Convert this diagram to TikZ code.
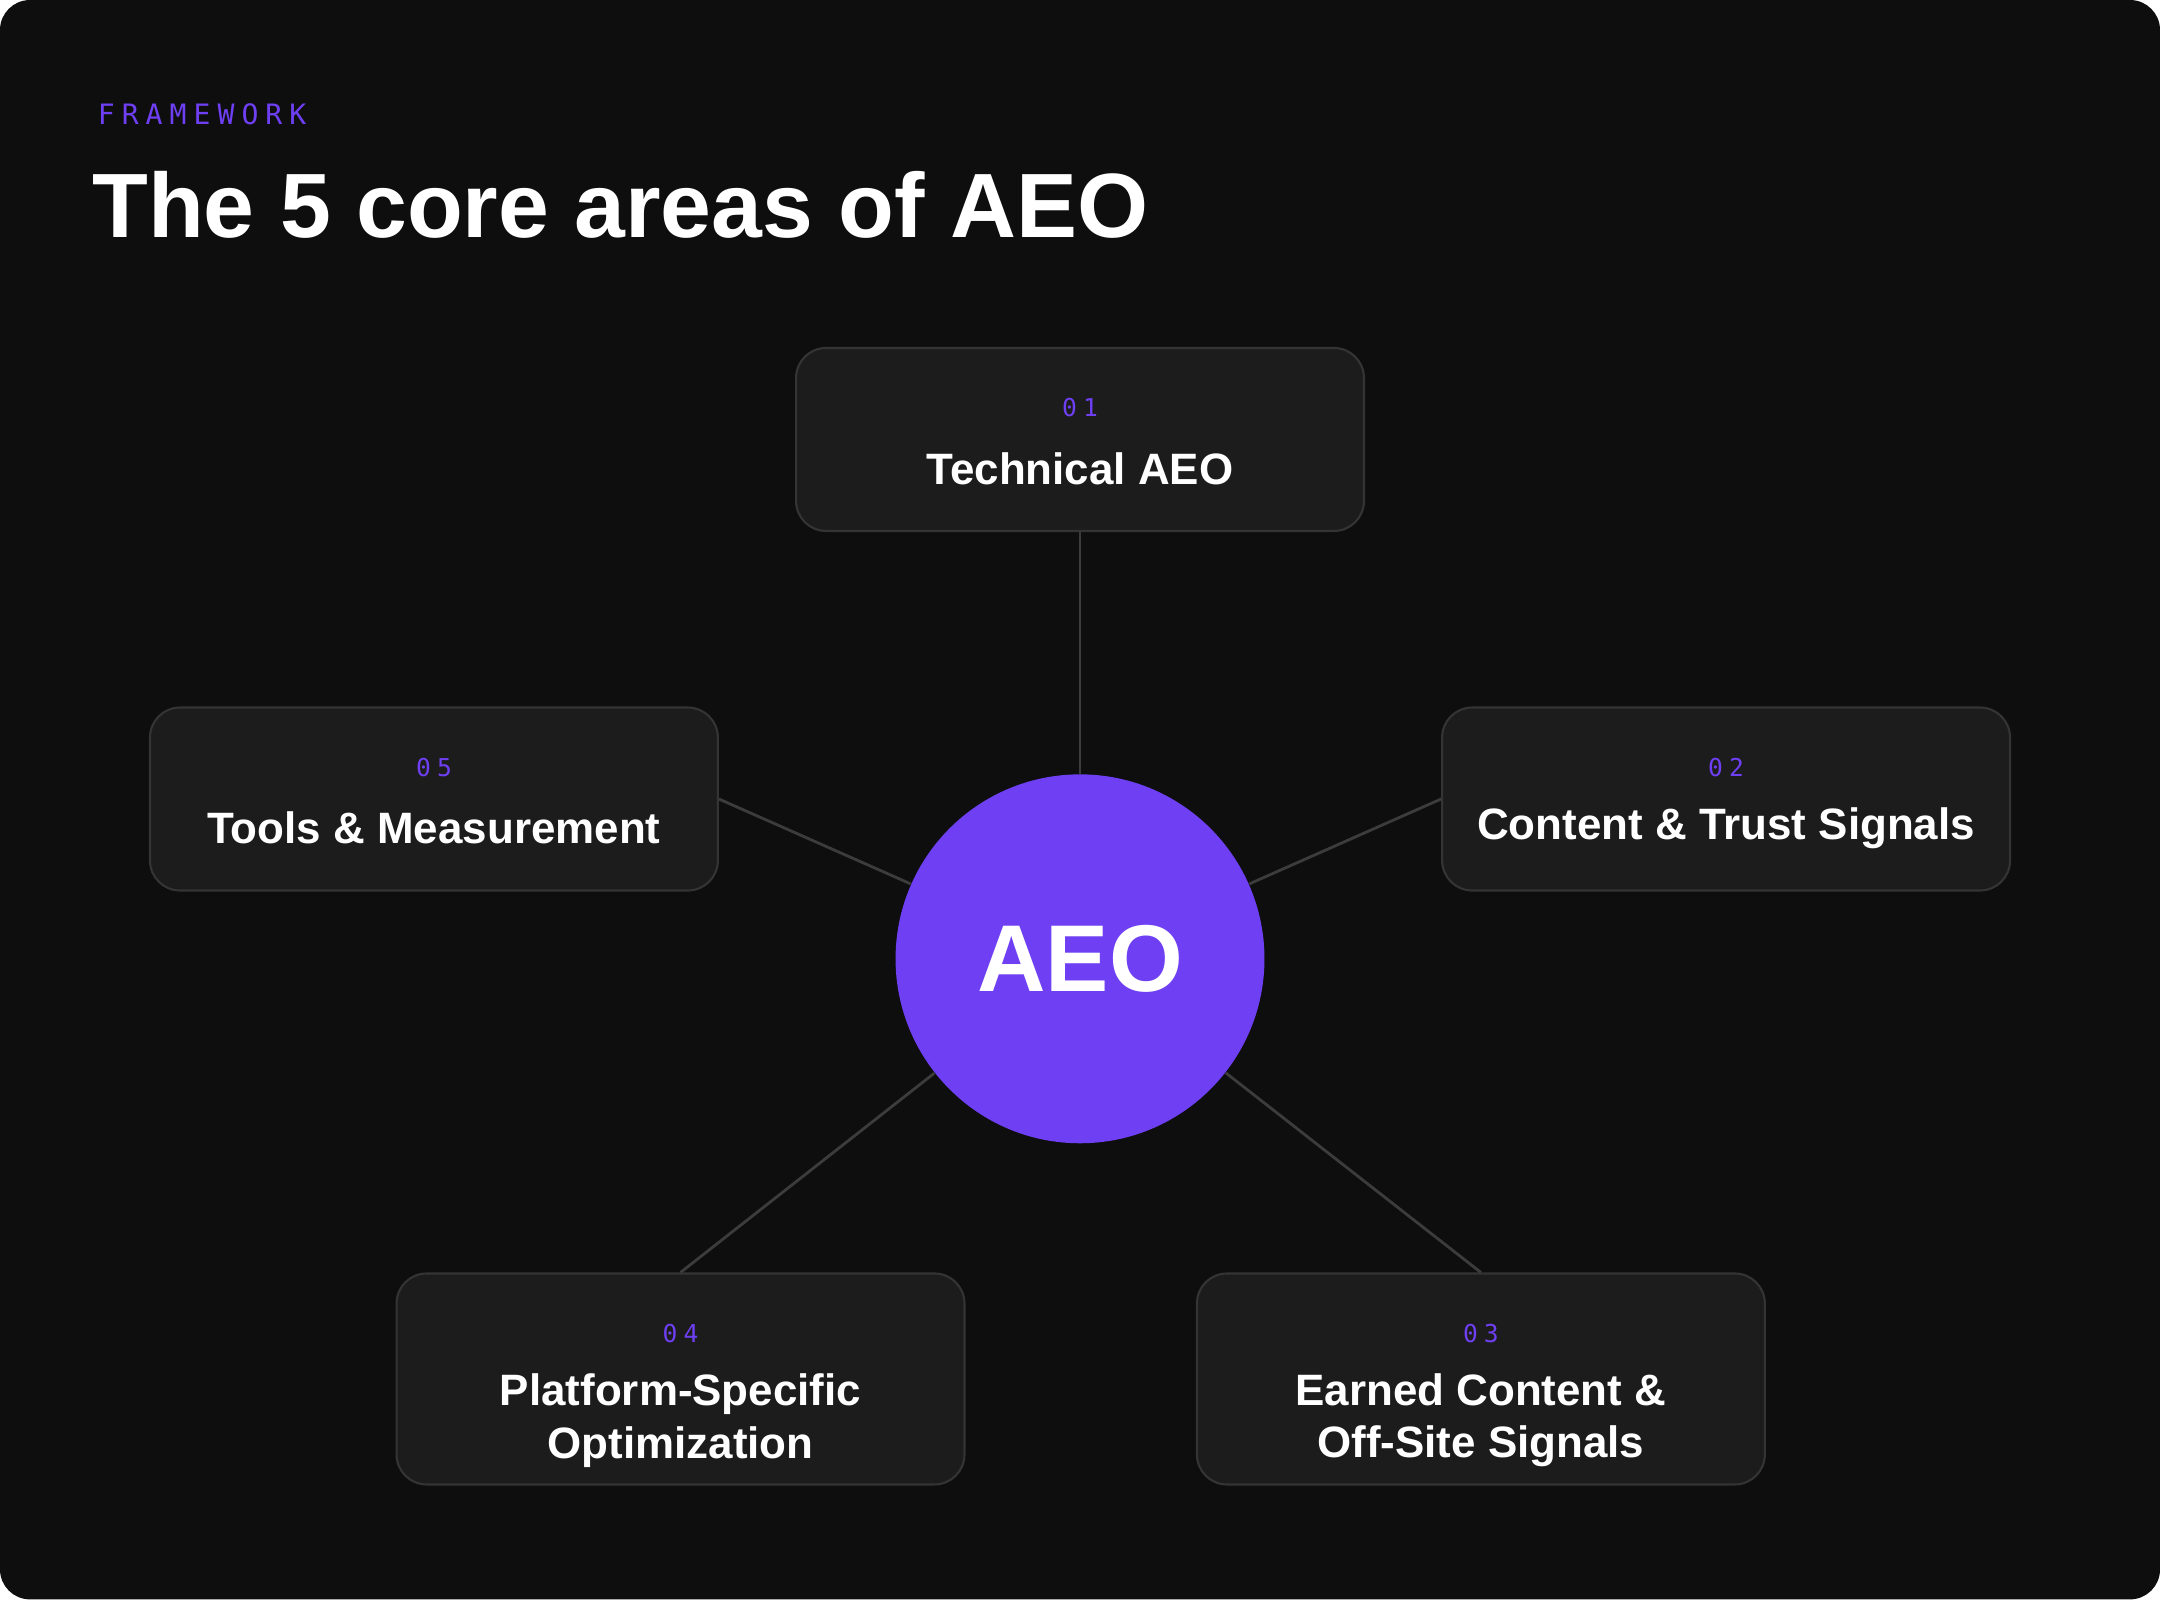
\documentclass[tikz,border=0pt]{standalone}
\usepackage{fontspec}
\setmainfont{Liberation Sans}
\newfontfamily\numfont[LetterSpace=25]{DejaVu Sans Mono}
\usetikzlibrary{positioning}
\definecolor{bgdark}{HTML}{0E0E0E}
\definecolor{cardfill}{HTML}{1C1C1C}
\definecolor{cardline}{HTML}{343434}
\definecolor{aeopurple}{HTML}{6E3FF3}
\definecolor{linkgray}{HTML}{3C3C3C}
\tikzset{
  area/.style={rectangle,draw=cardline,fill=cardfill,line width=0.6pt,rounded corners=0.3cm,
    minimum width=5.68cm,minimum height=1.83cm},
  tallarea/.style={area,minimum height=2.11cm},
  areanum/.style={text=aeopurple,font=\numfont\fontsize{7}{8}\selectfont},
  arealabel/.style={text=white,font=\bfseries\fontsize{12.5}{15}\selectfont,align=center},
  link/.style={draw=linkgray,line width=0.8pt}
}
\begin{document}
\begin{tikzpicture}[x=0.013776cm,y=-0.013776cm]
    \useasboundingbox (0,0) rectangle (1568,1161);
    \fill[white] (0,0) rectangle (1568,1161);
    \fill[bgdark,rounded corners=0.3cm] (0,0) rectangle (1568,1161);

    % Heading
    \node[anchor=west,text=aeopurple,font=\numfont\fontsize{8}{9}\selectfont] (kicker) at (62,83) {FRAMEWORK};
    \node[anchor=west,text=white,font=\bfseries\fontsize{26}{30}\selectfont] (title) at (58,149) {The 5 core areas of AEO};

    % Center
    \node[circle,fill=aeopurple,minimum size=3.69cm,text=white,font=\bfseries\fontsize{27}{30}\selectfont] (aeo) at (784,696) {AEO};

    % Areas
    \node[area] (technical) at (784,319) {};
    \node[areanum] at (784,296) {01};
    \node[arealabel] at (784,340) {Technical AEO};

    \node[area] (content) at (1253,580) {};
    \node[areanum] at (1253,557) {02};
    \node[arealabel] at (1253,601) {Content \& Trust Signals};

    \node[tallarea] (earned) at (1075,1001) {};
    \node[areanum] at (1075,968) {03};
    \node[arealabel] at (1075,1031) {Earned Content \&\\Off-Site Signals};

    \node[tallarea] (platform) at (494,1001) {};
    \node[areanum] at (494,968) {04};
    \node[arealabel] at (494,1031) {Platform-Specific\\Optimization};

    \node[area] (tools) at (315,580) {};
    \node[areanum] at (315,557) {05};
    \node[arealabel] at (315,601) {Tools \& Measurement};

    % Links
    \draw[link] (technical.south) -- (aeo);
    \draw[link] (content.west) -- (aeo);
    \draw[link] (earned.north) -- (aeo);
    \draw[link] (platform.north) -- (aeo);
    \draw[link] (tools.east) -- (aeo);
\end{tikzpicture}
\end{document}
